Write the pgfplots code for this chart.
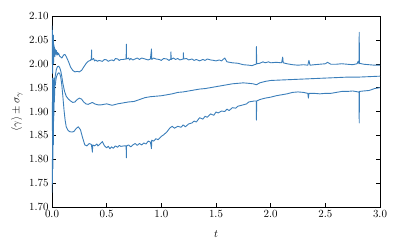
\documentclass[border=0pt]{standalone}
\usepackage{pgfplots}
\pgfplotsset{compat=1.18}
\definecolor{lineblue}{RGB}{58,126,186}
\tikzset{curve/.style={lineblue, mark=none, line width=0.9pt, line join=round}}
\begin{document}
\begin{tikzpicture}
\useasboundingbox (-52bp,-40bp) rectangle (347bp,207bp);
\begin{axis}[
  at={(0,0)}, anchor=south west,
  scale only axis, width=328bp, height=191bp,
  xmin=0, xmax=3, ymin=1.70, ymax=2.10,
  xtick={0,0.5,...,3.0},
  ytick={1.70,1.75,...,2.101},
  xticklabel style={/pgf/number format/.cd,fixed,fixed zerofill,precision=1},
  yticklabel style={/pgf/number format/.cd,fixed,fixed zerofill,precision=2},
  tick label style={font=\fontsize{11}{13}\selectfont},
  major tick length=4bp,
  tick style={black, line width=0.5pt},
  axis line style={black, line width=0.6pt},
  xlabel={$t$}, ylabel={$\langle\gamma\rangle\pm\sigma_\gamma$},
  every axis x label/.style={at={(axis description cs:0.5,0)}, anchor=center, yshift=-27bp, font=\fontsize{11}{13}\selectfont},
  every axis y label/.style={at={(axis description cs:0,0.5)}, anchor=center, rotate=90, yshift=35bp, font=\fontsize{11}{13}\selectfont},
]
% mean + sigma
\addplot[curve] coordinates {
(0.000,2.080)(0.002,2.000)(0.004,2.070)(0.006,1.980)(0.008,2.050)(0.010,2.020)(0.012,2.060)(0.014,2.000)
(0.017,2.040)(0.020,2.020)(0.023,2.035)(0.026,2.015)(0.030,2.030)(0.035,2.020)(0.040,2.028)(0.045,2.018)
(0.050,2.024)(0.055,2.019)(0.060,2.022)(0.070,2.016)(0.080,2.014)(0.090,2.012)(0.100,2.016)(0.110,2.019)
(0.120,2.019)(0.130,2.015)(0.150,2.005)(0.170,1.993)(0.190,1.986)(0.210,1.983)(0.230,1.984)(0.250,1.983)
(0.270,1.986)(0.290,1.993)(0.310,2.000)(0.330,2.005)(0.350,2.007)(0.360,2.010)(0.362,2.029)(0.364,2.008)
(0.380,2.011)(0.390,2.006)(0.400,2.008)(0.415,2.005)(0.430,2.007)(0.460,2.005)(0.480,2.009)(0.500,2.008)
(0.515,2.005)(0.530,2.007)(0.550,2.008)(0.565,2.006)(0.580,2.011)(0.600,2.010)(0.615,2.007)(0.630,2.009)
(0.650,2.009)(0.678,2.010)(0.680,2.041)(0.682,2.010)(0.700,2.012)(0.710,2.008)(0.720,2.011)(0.740,2.008)
(0.760,2.010)(0.780,2.012)(0.800,2.009)(0.820,2.012)(0.850,2.010)(0.880,2.008)(0.900,2.010)(0.910,2.031)
(0.912,2.009)(0.930,2.012)(0.950,2.010)(0.980,2.009)(1.000,2.007)(1.020,2.011)(1.050,2.010)(1.070,2.007)
(1.086,2.010)(1.088,2.025)(1.090,2.009)(1.110,2.012)(1.130,2.009)(1.150,2.011)(1.170,2.008)(1.200,2.010)
(1.202,2.023)(1.204,2.010)(1.230,2.011)(1.250,2.008)(1.280,2.010)(1.300,2.007)(1.320,2.009)(1.350,2.006)
(1.380,2.009)(1.400,2.007)(1.420,2.010)(1.450,2.008)(1.480,2.007)(1.500,2.006)(1.530,2.008)(1.550,2.006)
(1.580,2.012)(1.600,2.004)(1.650,2.002)(1.700,2.001)(1.750,1.998)(1.800,1.997)(1.830,1.996)(1.850,1.998)
(1.868,1.999)(1.870,2.036)(1.872,2.000)(1.900,2.001)(1.930,2.004)(1.950,2.002)(1.980,2.004)(2.000,2.002)
(2.050,2.003)(2.100,2.002)(2.110,2.014)(2.115,2.002)(2.150,2.000)(2.200,1.998)(2.250,1.997)(2.300,1.998)
(2.340,1.997)(2.350,2.007)(2.360,1.997)(2.400,1.998)(2.450,1.999)(2.500,2.000)(2.520,2.003)(2.550,1.999)
(2.600,1.999)(2.650,2.000)(2.700,1.999)(2.750,1.998)(2.790,2.000)(2.800,2.005)(2.808,2.000)(2.810,2.066)
(2.812,2.001)(2.850,1.999)(2.900,1.998)(2.950,1.997)(3.000,1.997)
};
% mean
\addplot[curve] coordinates {
(0.000,1.920)(0.003,1.860)(0.006,1.970)(0.009,1.880)(0.012,1.950)(0.015,1.900)(0.018,1.970)(0.021,1.930)
(0.025,1.960)(0.030,1.975)(0.040,1.988)(0.050,1.994)(0.060,1.995)(0.070,1.992)(0.080,1.985)(0.090,1.973)
(0.100,1.958)(0.115,1.942)(0.130,1.932)(0.150,1.926)(0.170,1.922)(0.190,1.919)(0.210,1.920)(0.230,1.925)
(0.250,1.928)(0.270,1.926)(0.290,1.920)(0.310,1.916)(0.330,1.915)(0.350,1.917)(0.370,1.919)(0.390,1.916)
(0.420,1.914)(0.450,1.914)(0.500,1.916)(0.550,1.913)(0.600,1.916)(0.650,1.918)(0.700,1.920)(0.750,1.921)
(0.800,1.925)(0.850,1.929)(0.900,1.931)(0.950,1.932)(1.000,1.933)(1.050,1.935)(1.100,1.937)(1.150,1.940)
(1.200,1.941)(1.250,1.943)(1.300,1.945)(1.350,1.947)(1.400,1.948)(1.450,1.950)(1.500,1.952)(1.550,1.954)
(1.600,1.956)(1.650,1.958)(1.700,1.959)(1.750,1.960)(1.800,1.959)(1.840,1.958)(1.870,1.956)(1.900,1.960)
(1.950,1.963)(2.000,1.965)(2.100,1.966)(2.200,1.967)(2.300,1.968)(2.400,1.969)(2.500,1.970)(2.600,1.971)
(2.700,1.972)(2.800,1.972)(2.900,1.973)(3.000,1.974)
};
% mean - sigma
\addplot[curve] coordinates {
(0.000,1.730)(0.002,1.800)(0.004,1.750)(0.006,1.860)(0.008,1.780)(0.010,1.900)(0.012,1.830)(0.014,1.930)
(0.016,1.880)(0.019,1.950)(0.022,1.920)(0.026,1.960)(0.030,1.955)(0.035,1.965)(0.040,1.972)(0.050,1.978)
(0.060,1.981)(0.070,1.980)(0.080,1.972)(0.090,1.955)(0.100,1.930)(0.110,1.903)(0.120,1.882)(0.130,1.868)
(0.145,1.861)(0.160,1.858)(0.180,1.857)(0.200,1.858)(0.220,1.864)(0.240,1.868)(0.260,1.862)(0.280,1.845)
(0.300,1.830)(0.320,1.828)(0.340,1.833)(0.360,1.831)(0.370,1.815)(0.372,1.830)(0.390,1.828)(0.410,1.832)
(0.420,1.828)(0.440,1.832)(0.460,1.837)(0.480,1.828)(0.500,1.824)(0.515,1.827)(0.530,1.822)(0.545,1.826)
(0.560,1.823)(0.580,1.828)(0.600,1.825)(0.615,1.829)(0.630,1.827)(0.660,1.828)(0.678,1.828)(0.680,1.803)
(0.682,1.828)(0.700,1.830)(0.720,1.826)(0.740,1.830)(0.760,1.833)(0.780,1.829)(0.800,1.833)(0.820,1.830)
(0.840,1.834)(0.860,1.832)(0.880,1.838)(0.900,1.836)(0.910,1.822)(0.912,1.840)(0.930,1.838)(0.950,1.843)
(0.970,1.841)(1.000,1.848)(1.020,1.851)(1.050,1.857)(1.080,1.866)(1.100,1.869)(1.120,1.865)(1.150,1.869)
(1.180,1.867)(1.200,1.872)(1.220,1.868)(1.250,1.874)(1.280,1.876)(1.300,1.880)(1.320,1.878)(1.350,1.887)
(1.380,1.884)(1.400,1.890)(1.420,1.888)(1.450,1.895)(1.480,1.892)(1.500,1.899)(1.520,1.897)(1.550,1.901)
(1.580,1.900)(1.600,1.905)(1.620,1.902)(1.650,1.908)(1.680,1.907)(1.700,1.911)(1.750,1.914)(1.780,1.916)
(1.800,1.920)(1.850,1.922)(1.868,1.922)(1.870,1.882)(1.872,1.922)(1.900,1.925)(1.950,1.928)(2.000,1.930)
(2.050,1.933)(2.100,1.935)(2.150,1.937)(2.200,1.940)(2.250,1.941)(2.300,1.940)(2.340,1.938)(2.345,1.928)
(2.350,1.938)(2.400,1.938)(2.450,1.937)(2.500,1.938)(2.550,1.938)(2.600,1.940)(2.650,1.942)(2.700,1.942)
(2.750,1.943)(2.800,1.941)(2.808,1.940)(2.810,1.876)(2.812,1.942)(2.850,1.943)(2.900,1.944)(2.950,1.948)
(3.000,1.950)
};
\end{axis}
\end{tikzpicture}
\end{document}
